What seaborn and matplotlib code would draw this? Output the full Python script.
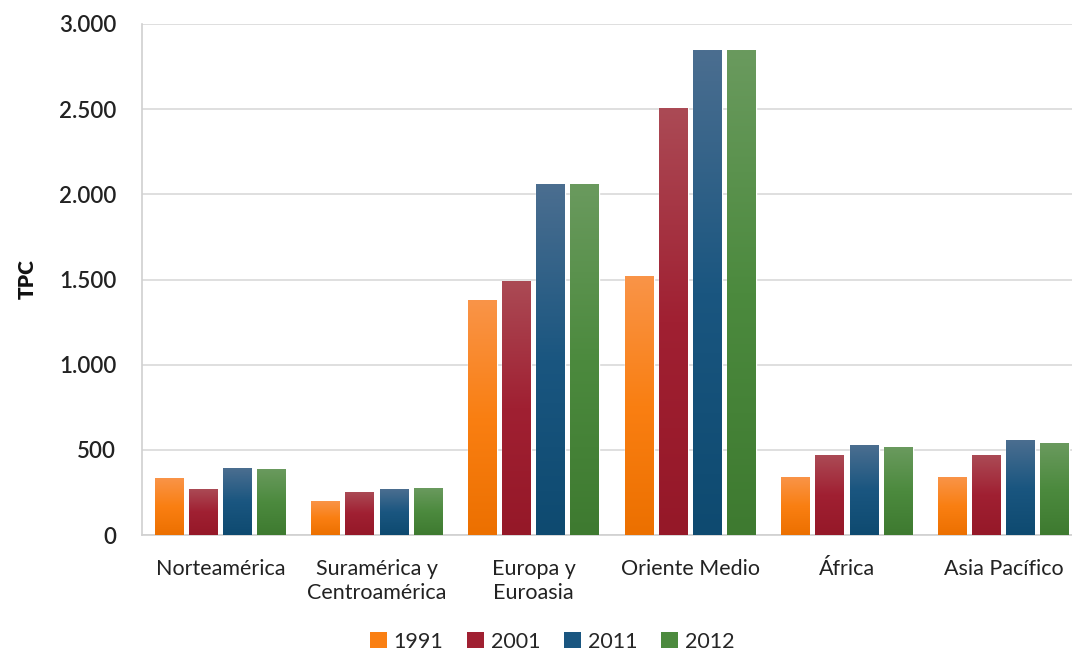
import numpy as np
import pandas as pd
import matplotlib
matplotlib.use("Agg")
import matplotlib.pyplot as plt
import seaborn as sns
from matplotlib.colors import LinearSegmentedColormap
from matplotlib.ticker import FuncFormatter
from matplotlib.patches import Patch

regions = ["Norteamérica", "Suramérica y\nCentroamérica", "Europa y\nEuroasia",
           "Oriente Medio", "África", "Asia Pacífico"]
years = ["1991", "2001", "2011", "2012"]
v1991 = [330, 195, 1375, 1515, 335, 335]
v2001 = [270, 250, 1490, 2505, 465, 465]
v2011 = [393, 265, 2060, 2845, 523, 552]
v2012 = [382, 275, 2060, 2845, 512, 540]
yticks = [0, 500, 1000, 1500, 2000, 2500, 3000]

df = pd.DataFrame({
    "region": regions * 4,
    "year": sum([[y] * len(regions) for y in years], []),
    "tpc": v1991 + v2001 + v2011 + v2012,
})

mid = {"1991": "#FA7F12", "2001": "#A02032", "2011": "#1A5680", "2012": "#4C8A3E"}
tops = {"1991": "#F99448", "2001": "#AB4A55", "2011": "#4B6E90", "2012": "#6A9A5E"}
bots = {"1991": "#EC7000", "2001": "#951828", "2011": "#0E4A70", "2012": "#3E7A30"}

sns.set_theme(style="white")
plt.rcParams["font.family"] = ["Lato", "DejaVu Sans"]

fig = plt.figure(figsize=(10.72, 6.56), dpi=100)
ax = fig.add_axes([142 / 1072, 1 - 535 / 656, 940 / 1072, 511 / 656])

sns.barplot(data=df, x="region", y="tpc", hue="year", palette=mid,
            width=0.87, gap=0.15, ax=ax, legend=False, zorder=2)

for cont, yr in zip(ax.containers, years):
    cmap = LinearSegmentedColormap.from_list("g" + yr, [bots[yr], mid[yr], tops[yr]])
    grad = np.linspace(0, 1, 256).reshape(-1, 1)
    for p in cont.patches:
        x0, w, h = p.get_x(), p.get_width(), p.get_height()
        ax.imshow(grad, extent=[x0, x0 + w, 0, h], origin="lower", aspect="auto",
                  cmap=cmap, zorder=3, interpolation="bilinear")

ax.set_xlim(-0.5, len(regions) - 0.5)
ax.set_ylim(0, 3000)
ax.set_yticks(yticks)
ax.yaxis.set_major_formatter(FuncFormatter(lambda v, _: f"{v:,.0f}".replace(",", ".")))
ax.grid(axis="y", color="#D9D9D9", linewidth=1.2, zorder=0)
ax.set_axisbelow(True)
for s in ["top", "right"]:
    ax.spines[s].set_visible(False)
for s in ["left", "bottom"]:
    ax.spines[s].set_color("#D0D0D0")
    ax.spines[s].set_linewidth(1.2)
ax.tick_params(axis="both", length=0)
ax.tick_params(axis="y", labelsize=16, labelcolor="#222222", pad=18.5)
ax.tick_params(axis="x", labelsize=15.5, labelcolor="#222222", pad=17)
for t in ax.get_yticklabels():
    t.set_fontweight("semibold")
for t in ax.get_xticklabels():
    t.set_linespacing(1.25)
ax.set_xlabel("")
ax.set_ylabel("TPC", fontsize=15, fontweight="heavy", color="#111111", labelpad=16)

handles = [Patch(facecolor=mid[y], edgecolor="none") for y in years]
fig.legend(handles, years, loc="center", bbox_to_anchor=(0.515, 0.022), ncol=4,
           frameon=False, fontsize=15.5, handlelength=0.8, handleheight=0.8,
           handletextpad=0.3, columnspacing=1.1, borderpad=0.1)

fig.savefig("out.png", dpi=100)
